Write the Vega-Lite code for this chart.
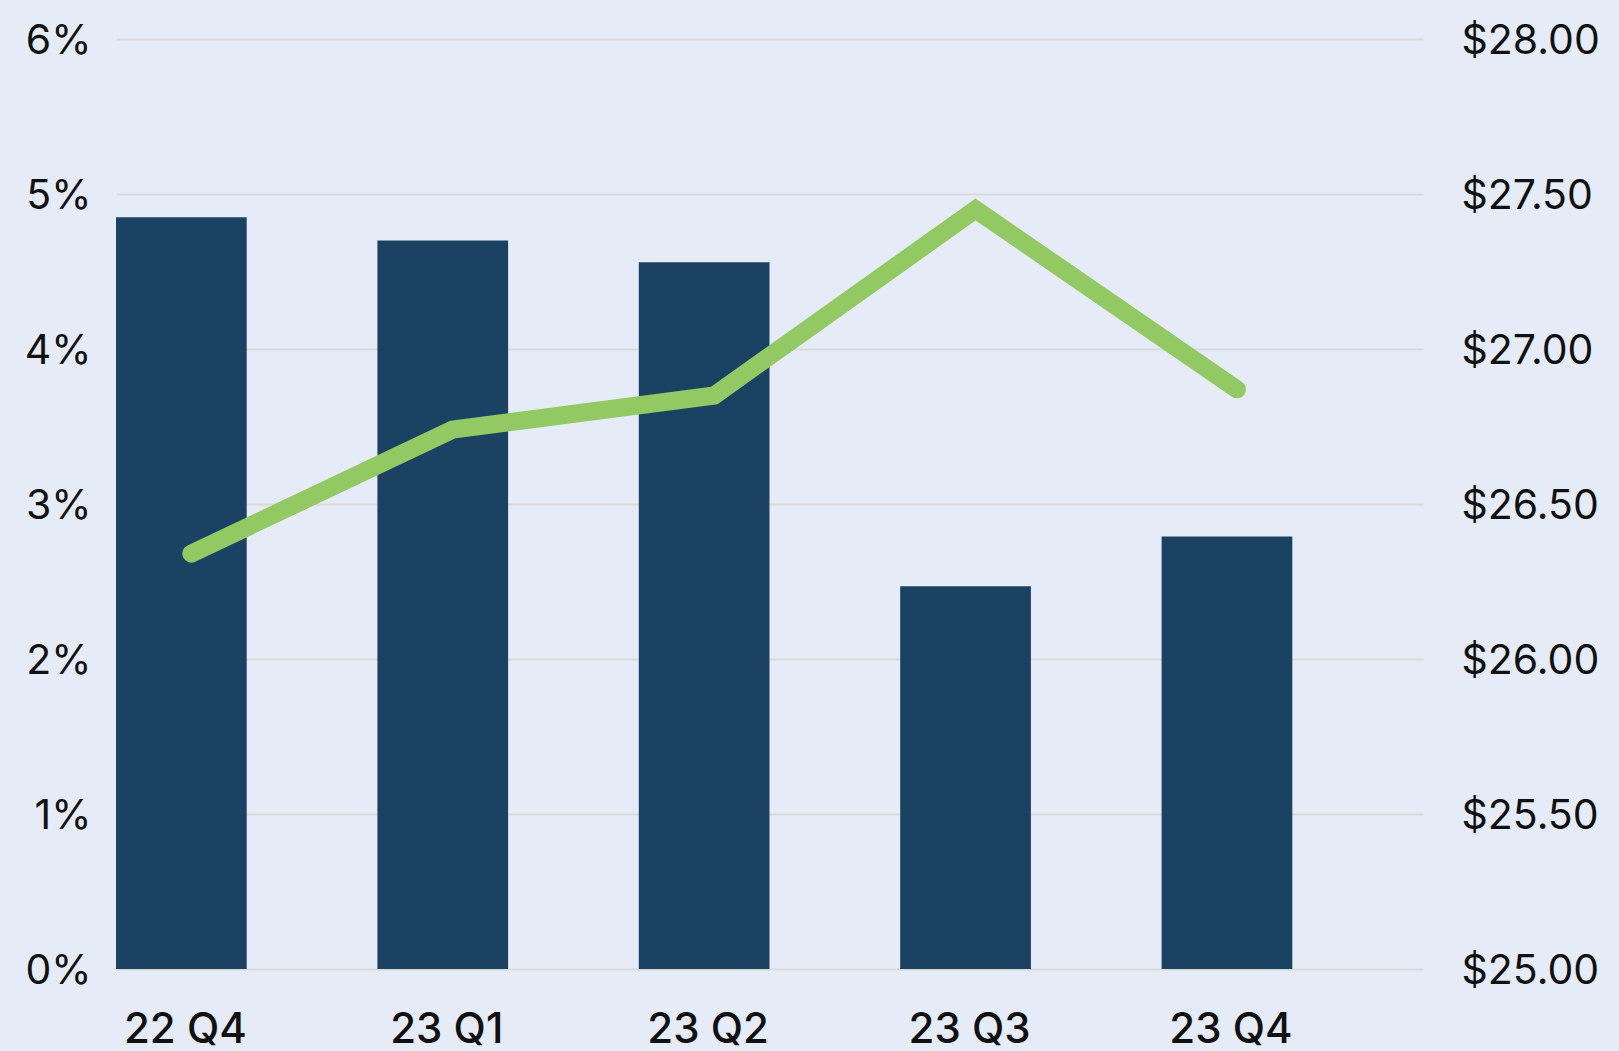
{
  "$schema": "https://vega.github.io/schema/vega-lite/v6.json",
  "width": 1307,
  "height": 930,
  "autosize": {"type": "none"},
  "padding": {"left": 116, "top": 39, "right": 196, "bottom": 82},
  "background": "#E6ECF7",
  "config": {"view": {"stroke": null}, "font": "Inter"},
  "data": {
    "values": [
      {"quarter": "22 Q4", "vacancy": 0.0485, "rent": 26.34},
      {"quarter": "23 Q1", "vacancy": 0.0470, "rent": 26.74},
      {"quarter": "23 Q2", "vacancy": 0.0456, "rent": 26.85},
      {"quarter": "23 Q3", "vacancy": 0.0247, "rent": 27.45},
      {"quarter": "23 Q4", "vacancy": 0.0279, "rent": 26.87}
    ]
  },
  "encoding": {
    "x": {
      "field": "quarter",
      "type": "nominal",
      "sort": null,
      "title": null,
      "scale": {"paddingInner": 0.5, "paddingOuter": 0.25, "align": 0},
      "axis": {
        "domain": false,
        "ticks": false,
        "tickSize": 0,
        "labelAngle": 0,
        "labelFontSize": 42,
        "labelFontWeight": 500,
        "labelColor": "#111111",
        "labelBaseline": "alphabetic",
        "labelPadding": 73,
        "labelOffset": 4
      }
    }
  },
  "layer": [
    {
      "mark": {"type": "bar", "color": "#1A4263"},
      "encoding": {
        "y": {
          "field": "vacancy",
          "type": "quantitative",
          "title": null,
          "scale": {"domain": [0, 0.06], "nice": false},
          "axis": {
            "orient": "left",
            "values": [0, 0.01, 0.02, 0.03, 0.04, 0.05, 0.06],
            "format": ".0%",
            "domain": false,
            "ticks": false,
            "tickSize": 0,
            "grid": true,
            "gridColor": "#D9D9D9",
            "gridWidth": 2,
            "labelFontSize": 41,
            "labelColor": "#111111",
            "labelBaseline": "alphabetic",
            "labelOffset": 14,
            "labelPadding": 25
          }
        }
      }
    },
    {
      "mark": {
        "type": "line",
        "color": "#92C962",
        "strokeWidth": 18,
        "strokeCap": "round",
        "strokeJoin": "miter",
        "xOffset": 10
      },
      "encoding": {
        "y": {
          "field": "rent",
          "type": "quantitative",
          "title": null,
          "scale": {"domain": [25, 28], "nice": false, "zero": false},
          "axis": {
            "orient": "right",
            "values": [25, 25.5, 26, 26.5, 27, 27.5, 28],
            "format": "$.2f",
            "domain": false,
            "ticks": false,
            "tickSize": 0,
            "grid": false,
            "labelFontSize": 41,
            "labelColor": "#111111",
            "labelBaseline": "alphabetic",
            "labelOffset": 14,
            "labelPadding": 38
          }
        }
      }
    }
  ],
  "resolve": {"scale": {"y": "independent"}}
}
